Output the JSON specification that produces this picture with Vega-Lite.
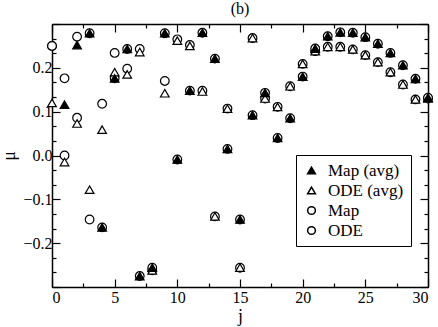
{
  "$schema": "https://vega.github.io/schema/vega-lite/v6.json",
  "width": 376,
  "height": 263,
  "autosize": "none",
  "padding": {"left": 52, "top": 24, "right": 10, "bottom": 40},
  "background": "white",
  "config": {
    "view": {"stroke": null},
    "font": "Liberation Serif",
    "axis": {"grid": false, "domainColor": "black", "domainWidth": 1.5, "tickColor": "black", "tickWidth": 1.2, "labelFont": "Liberation Serif", "labelFontSize": 16, "labelColor": "black", "titleFont": "Liberation Serif", "titleFontSize": 18, "titleFontWeight": "normal", "titleColor": "black"}
  },
  "title": {"text": "(b)", "font": "Liberation Serif", "fontSize": 16, "fontWeight": "normal", "offset": 6, "color": "black"},
  "data": {"values": [
    {"j":0,"mu":0.25,"s":"ODE"},{"j":1,"mu":0.0,"s":"ODE"},{"j":2,"mu":0.086,"s":"ODE"},{"j":3,"mu":-0.146,"s":"ODE"},{"j":4,"mu":0.118,"s":"ODE"},{"j":5,"mu":0.234,"s":"ODE"},{"j":6,"mu":0.198,"s":"ODE"},{"j":7,"mu":0.243,"s":"ODE"},{"j":8,"mu":-0.262,"s":"ODE"},{"j":9,"mu":0.17,"s":"ODE"},{"j":10,"mu":0.265,"s":"ODE"},{"j":11,"mu":0.252,"s":"ODE"},{"j":12,"mu":0.148,"s":"ODE"},{"j":13,"mu":-0.139,"s":"ODE"},{"j":14,"mu":0.107,"s":"ODE"},{"j":15,"mu":-0.256,"s":"ODE"},{"j":16,"mu":0.268,"s":"ODE"},{"j":17,"mu":0.13,"s":"ODE"},{"j":18,"mu":0.111,"s":"ODE"},{"j":19,"mu":0.158,"s":"ODE"},{"j":20,"mu":0.209,"s":"ODE"},{"j":21,"mu":0.238,"s":"ODE"},{"j":22,"mu":0.248,"s":"ODE"},{"j":23,"mu":0.248,"s":"ODE"},{"j":24,"mu":0.242,"s":"ODE"},{"j":25,"mu":0.229,"s":"ODE"},{"j":26,"mu":0.213,"s":"ODE"},{"j":27,"mu":0.19,"s":"ODE"},{"j":28,"mu":0.162,"s":"ODE"},{"j":29,"mu":0.128,"s":"ODE"},{"j":30,"mu":0.13,"s":"ODE"},
    {"j":0,"mu":0.25,"s":"Map"},{"j":1,"mu":0.176,"s":"Map"},{"j":2,"mu":0.271,"s":"Map"},{"j":3,"mu":0.279,"s":"Map"},{"j":4,"mu":-0.164,"s":"Map"},{"j":5,"mu":0.176,"s":"Map"},{"j":6,"mu":0.243,"s":"Map"},{"j":7,"mu":-0.275,"s":"Map"},{"j":8,"mu":-0.256,"s":"Map"},{"j":9,"mu":0.279,"s":"Map"},{"j":10,"mu":-0.009,"s":"Map"},{"j":11,"mu":0.148,"s":"Map"},{"j":12,"mu":0.28,"s":"Map"},{"j":13,"mu":0.221,"s":"Map"},{"j":14,"mu":0.015,"s":"Map"},{"j":15,"mu":-0.146,"s":"Map"},{"j":16,"mu":0.092,"s":"Map"},{"j":17,"mu":0.143,"s":"Map"},{"j":18,"mu":0.04,"s":"Map"},{"j":19,"mu":0.085,"s":"Map"},{"j":20,"mu":0.18,"s":"Map"},{"j":21,"mu":0.244,"s":"Map"},{"j":22,"mu":0.272,"s":"Map"},{"j":23,"mu":0.281,"s":"Map"},{"j":24,"mu":0.28,"s":"Map"},{"j":25,"mu":0.27,"s":"Map"},{"j":26,"mu":0.255,"s":"Map"},{"j":27,"mu":0.234,"s":"Map"},{"j":28,"mu":0.206,"s":"Map"},{"j":29,"mu":0.175,"s":"Map"},{"j":30,"mu":0.132,"s":"Map"},
    {"j":0,"mu":0.12,"s":"ODE (avg)"},{"j":1,"mu":-0.015,"s":"ODE (avg)"},{"j":2,"mu":0.073,"s":"ODE (avg)"},{"j":3,"mu":-0.078,"s":"ODE (avg)"},{"j":4,"mu":0.059,"s":"ODE (avg)"},{"j":5,"mu":0.19,"s":"ODE (avg)"},{"j":6,"mu":0.185,"s":"ODE (avg)"},{"j":7,"mu":0.236,"s":"ODE (avg)"},{"j":8,"mu":-0.262,"s":"ODE (avg)"},{"j":9,"mu":0.142,"s":"ODE (avg)"},{"j":10,"mu":0.262,"s":"ODE (avg)"},{"j":11,"mu":0.25,"s":"ODE (avg)"},{"j":12,"mu":0.146,"s":"ODE (avg)"},{"j":13,"mu":-0.139,"s":"ODE (avg)"},{"j":14,"mu":0.107,"s":"ODE (avg)"},{"j":15,"mu":-0.256,"s":"ODE (avg)"},{"j":16,"mu":0.268,"s":"ODE (avg)"},{"j":17,"mu":0.13,"s":"ODE (avg)"},{"j":18,"mu":0.111,"s":"ODE (avg)"},{"j":19,"mu":0.158,"s":"ODE (avg)"},{"j":20,"mu":0.209,"s":"ODE (avg)"},{"j":21,"mu":0.238,"s":"ODE (avg)"},{"j":22,"mu":0.248,"s":"ODE (avg)"},{"j":23,"mu":0.248,"s":"ODE (avg)"},{"j":24,"mu":0.242,"s":"ODE (avg)"},{"j":25,"mu":0.229,"s":"ODE (avg)"},{"j":26,"mu":0.213,"s":"ODE (avg)"},{"j":27,"mu":0.19,"s":"ODE (avg)"},{"j":28,"mu":0.162,"s":"ODE (avg)"},{"j":29,"mu":0.128,"s":"ODE (avg)"},{"j":30,"mu":0.13,"s":"ODE (avg)"},
    {"j":1,"mu":0.116,"s":"Map (avg)"},{"j":2,"mu":0.252,"s":"Map (avg)"},{"j":3,"mu":0.279,"s":"Map (avg)"},{"j":4,"mu":-0.164,"s":"Map (avg)"},{"j":5,"mu":0.176,"s":"Map (avg)"},{"j":6,"mu":0.243,"s":"Map (avg)"},{"j":7,"mu":-0.275,"s":"Map (avg)"},{"j":8,"mu":-0.256,"s":"Map (avg)"},{"j":9,"mu":0.279,"s":"Map (avg)"},{"j":10,"mu":-0.009,"s":"Map (avg)"},{"j":11,"mu":0.148,"s":"Map (avg)"},{"j":12,"mu":0.28,"s":"Map (avg)"},{"j":13,"mu":0.221,"s":"Map (avg)"},{"j":14,"mu":0.015,"s":"Map (avg)"},{"j":15,"mu":-0.146,"s":"Map (avg)"},{"j":16,"mu":0.092,"s":"Map (avg)"},{"j":17,"mu":0.143,"s":"Map (avg)"},{"j":18,"mu":0.04,"s":"Map (avg)"},{"j":19,"mu":0.085,"s":"Map (avg)"},{"j":20,"mu":0.18,"s":"Map (avg)"},{"j":21,"mu":0.244,"s":"Map (avg)"},{"j":22,"mu":0.272,"s":"Map (avg)"},{"j":23,"mu":0.281,"s":"Map (avg)"},{"j":24,"mu":0.28,"s":"Map (avg)"},{"j":25,"mu":0.27,"s":"Map (avg)"},{"j":26,"mu":0.255,"s":"Map (avg)"},{"j":27,"mu":0.234,"s":"Map (avg)"},{"j":28,"mu":0.206,"s":"Map (avg)"},{"j":29,"mu":0.175,"s":"Map (avg)"},{"j":30,"mu":0.132,"s":"Map (avg)"}
  ]},
  "layer": [
    {
      "mark": {"type": "point", "filled": true, "stroke": "black", "strokeWidth": 1.2, "size": 75, "opacity": 1},
      "encoding": {
        "x": {"field": "j", "type": "quantitative", "scale": {"domain": [0, 30], "nice": false},
          "axis": {"orient": "bottom", "title": "j", "titlePadding": 2, "labelFont": "Liberation Serif", "values": [0,2.5,5,7.5,10,12.5,15,17.5,20,22.5,25,27.5,30], "labelExpr": "datum.value % 5 == 0 ? datum.label : ''", "tickSize": {"condition": {"test": "datum.value % 5 == 0", "value": -8}, "value": -4}, "labelPadding": 10}},
        "y": {"field": "mu", "type": "quantitative", "scale": {"domain": [-0.3, 0.3], "nice": false},
          "axis": {"orient": "left", "title": "μ", "titlePadding": 4, "labelFont": "Liberation Serif", "values": [-0.3,-0.2667,-0.2333,-0.2,-0.1667,-0.1333,-0.1,-0.0667,-0.0333,0,0.0333,0.0667,0.1,0.1333,0.1667,0.2,0.2333,0.2667,0.3], "format": ".1f", "labelExpr": "abs(datum.value*10 - round(datum.value*10)) < 0.01 && abs(datum.value) < 0.29 ? datum.label : ''", "tickSize": {"condition": {"test": "abs(datum.value*10 - round(datum.value*10)) < 0.01", "value": -8}, "value": -4}, "labelPadding": 8}},
        "shape": {"field": "s", "type": "nominal", "scale": {"domain": ["Map (avg)", "ODE (avg)", "Map", "ODE"], "range": ["triangle-up", "triangle-up", "circle", "circle"]},
          "legend": {"title": null, "orient": "none", "legendX": 244, "legendY": 131, "strokeColor": "black", "fillColor": "white", "padding": 7, "labelFont": "Liberation Serif", "labelFontSize": 17, "labelColor": "black", "symbolSize": 60, "rowPadding": 2, "labelOffset": 8,
            "encode": {"symbols": {"update": {"stroke": {"value": "black"}, "strokeWidth": {"value": 1.2}, "opacity": {"value": 1}}}}}},
        "fill": {"field": "s", "type": "nominal", "scale": {"domain": ["Map (avg)", "ODE (avg)", "Map", "ODE"], "range": ["black", "white", "white", "white"]}, "legend": null}
      }
    },
    {
      "mark": {"type": "point", "opacity": 0},
      "encoding": {
        "x": {"field": "j", "type": "quantitative", "axis": {"orient": "top", "title": null, "labels": false, "values": [0,2.5,5,7.5,10,12.5,15,17.5,20,22.5,25,27.5,30], "tickSize": {"condition": {"test": "datum.value % 5 == 0", "value": -8}, "value": -4}}},
        "y": {"field": "mu", "type": "quantitative", "axis": {"orient": "right", "title": null, "labels": false, "values": [-0.3,-0.2667,-0.2333,-0.2,-0.1667,-0.1333,-0.1,-0.0667,-0.0333,0,0.0333,0.0667,0.1,0.1333,0.1667,0.2,0.2333,0.2667,0.3], "tickSize": {"condition": {"test": "abs(datum.value*10 - round(datum.value*10)) < 0.01", "value": -8}, "value": -4}}}
      }
    }
  ],
  "resolve": {"axis": {"x": "independent", "y": "independent"}}
}
